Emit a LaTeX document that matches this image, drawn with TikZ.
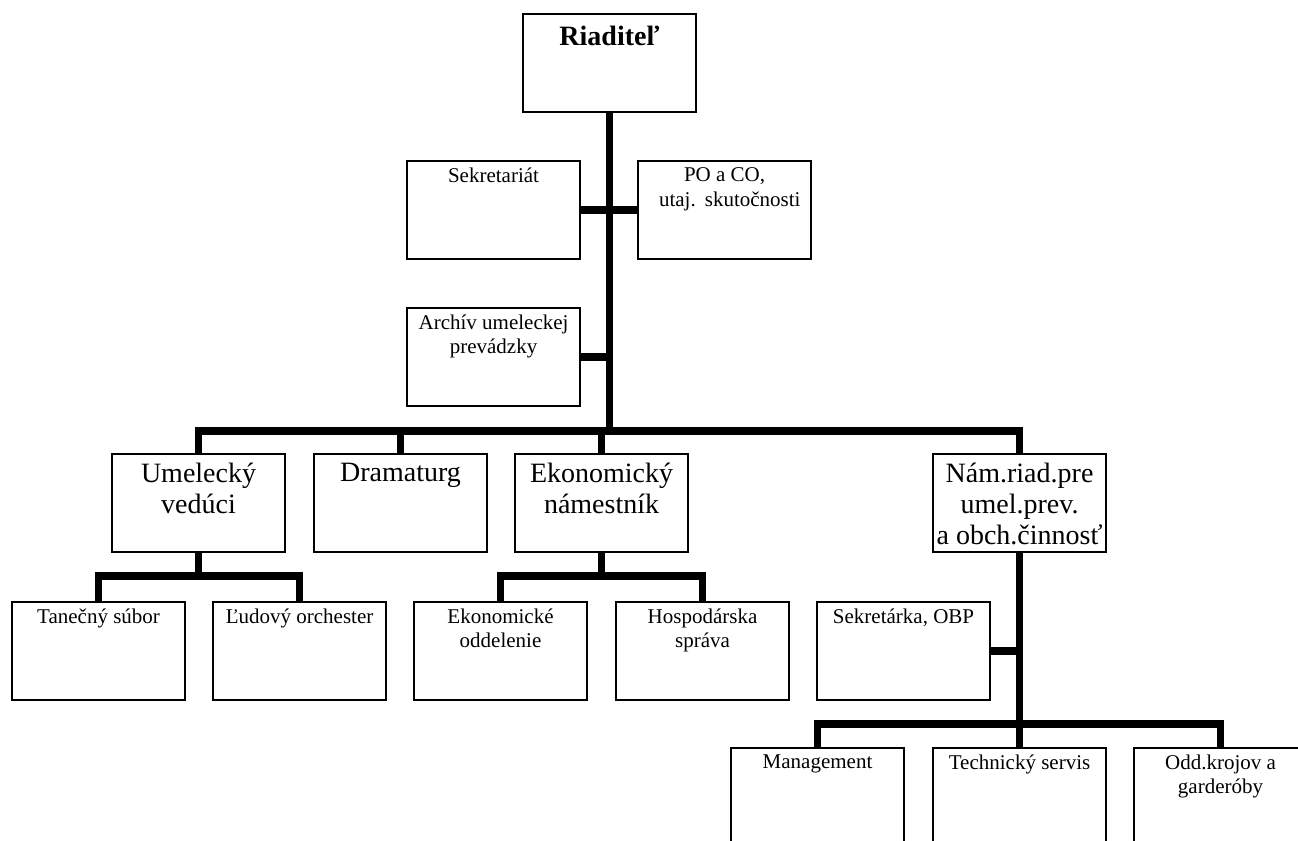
\documentclass[tikz,border=0pt]{standalone}
\usepackage{fontspec}
\setmainfont{Liberation Serif}
\usetikzlibrary{positioning}

\begin{document}
\begin{tikzpicture}[x=0.5714pt, y=-0.5714pt,
    unit/.style={draw, line width=0.7pt, minimum width=98.9pt, minimum height=56pt,
                 inner sep=0pt, outer sep=0pt, anchor=north west},
    small/.style={inner sep=0pt, align=center, font=\fontsize{12}{13.8}\selectfont},
    big/.style={inner sep=0pt, align=center, font=\fontsize{16}{17.6}\selectfont},
    link/.style={line width=4.2pt}]
    \useasboundingbox (0,0) rectangle (1298,840);

    % 方框
    \node[unit] (dir) at (523,14) {};
    \node[unit] (sekr) at (407,161) {};
    \node[unit] (poco) at (638,161) {};
    \node[unit] (arch) at (407,308) {};
    \node[unit] (umel) at (112,454) {};
    \node[unit] (dram) at (314,454) {};
    \node[unit] (ekon) at (515,454) {};
    \node[unit] (nam) at (933,454) {};
    \node[unit] (tan) at (12,602) {};
    \node[unit] (lud) at (213,602) {};
    \node[unit] (ekod) at (414,602) {};
    \node[unit] (hosp) at (616,602) {};
    \node[unit] (sekrob) at (817,602) {};
    \node[unit] (mng) at (731,748) {};
    \node[unit] (tech) at (933,748) {};
    \node[unit] (odd) at (1134,748) {};

    % 文字
    \node[big, font=\fontsize{16}{17.6}\selectfont\bfseries, below=6.9pt of dir.north] (dir-t) {Riaditeľ};
    \node[small, below=3.8pt of sekr.north] (sekr-t) {Sekretariát};
    \node[small, below=3.8pt of poco.north] (poco-t) {PO a CO,\\ \hspace*{0.5em}utaj.\hspace{0.1em} skutočnosti};
    \node[small, below=3.8pt of arch.north] (arch-t) {Archív umeleckej\\prevádzky};
    \node[big, below=5.1pt of umel.north] (umel-t) {Umelecký\\vedúci};
    \node[big, below=5.1pt of dram.north] (dram-t) {Dramaturg};
    \node[big, below=5.1pt of ekon.north] (ekon-t) {Ekonomický\\námestník};
    \node[big, below=5.1pt of nam.north] (nam-t) {Nám.riad.pre\\umel.prev.\\a obch.činnosť};
    \node[small, below=3.8pt of tan.north] (tan-t) {Tanečný súbor};
    \node[small, below=3.8pt of lud.north] (lud-t) {Ľudový orchester};
    \node[small, below=3.8pt of ekod.north] (ekod-t) {Ekonomické\\oddelenie};
    \node[small, below=3.8pt of hosp.north] (hosp-t) {Hospodárska\\správa};
    \node[small, below=3.8pt of sekrob.north] (sekrob-t) {Sekretárka, OBP};
    \node[small, below=3.8pt of mng.north] (mng-t) {Management};
    \node[small, below=3.8pt of tech.north] (tech-t) {Technický servis};
    \node[small, below=3.8pt of odd.north] (odd-t) {Odd.krojov a\\garderóby};

    % 连线
    \coordinate (hub) at (dir.south |- 0,431);
    \draw[link] (dir.south) -- (hub);
    \draw[link] (sekr.east) -- (poco.west);
    \draw[link] (arch.east) -- (arch.east -| hub);
    \draw[link] (umel.north) |- (hub) -| (nam.north);
    \draw[link] (dram.north) -- (dram.north |- hub);
    \draw[link] (ekon.north) -- (ekon.north |- hub);

    \draw[link] (umel.south) -- ++(0,24) coordinate (uhub);
    \draw[link] (tan.north) |- (uhub) -| (lud.north);
    \draw[link] (ekon.south) -- ++(0,24) coordinate (ehub);
    \draw[link] (ekod.north) |- (ehub) -| (hosp.north);

    \draw[link] (nam.south) -- (tech.north);
    \draw[link] (sekrob.east) -- (sekrob.east -| nam.south);
    \draw[link] (mng.north) -- ++(0,-24) -| (odd.north);
\end{tikzpicture}
\end{document}
